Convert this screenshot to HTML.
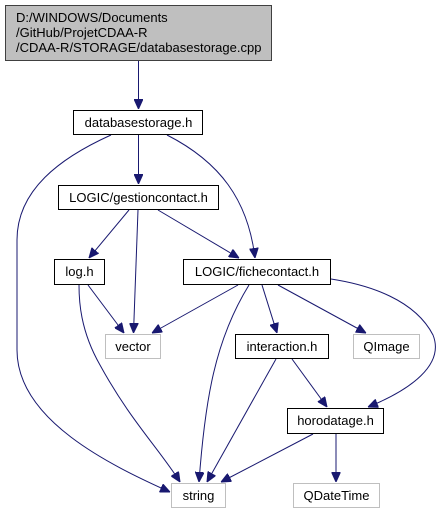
<!DOCTYPE html>
<html><head><meta charset="utf-8"><style>
html,body{margin:0;padding:0;background:#fff;width:443px;height:515px;overflow:hidden}
text{font-family:"Liberation Sans",Arial,sans-serif;font-size:13px;fill:#000}
</style></head><body>
<svg width="443" height="515" viewBox="0 0 443 515" xmlns="http://www.w3.org/2000/svg">
<defs>
<marker id="a" markerWidth="10" markerHeight="9" refX="10" refY="4.5" orient="auto" markerUnits="userSpaceOnUse">
<polygon points="0,0 10,4.5 0,9" fill="#191970" stroke="#191970"/>
</marker>
</defs>
<g fill="none" stroke="#191970" stroke-width="1" marker-end="url(#a)">
<path d="M138.5,61 L138.5,109"/>
<path d="M111,135 C60,158 17,190 17,240 L17,350 C17,420 110,465 170,492"/>
<path d="M138.5,135 L138.5,184"/>
<path d="M167,135 C220,162 248,200 255,258"/>
<path d="M129,210 L89,258"/>
<path d="M138,210 L133.5,333"/>
<path d="M158,210 L239,258"/>
<path d="M88,285 L124,333"/>
<path d="M79,285 C79,300 80,330 100,365 C130,420 160,450 180,482"/>
<path d="M238,285 L152,333"/>
<path d="M249,285 C215,340 205,400 199,482"/>
<path d="M262,285 L277,333"/>
<path d="M278,285 L366,333"/>
<path d="M331,279 C370,285 415,300 433,335 C445,365 410,390 368,407"/>
<path d="M276,359 L207,482"/>
<path d="M292,359 L327,407"/>
<path d="M313,434 L221,482"/>
<path d="M336,434 L336,482"/>
</g>
<g stroke-width="1">
<rect x="5.5" y="5.5" width="266" height="55" fill="#bfbfbf" stroke="#404040"/>
<rect x="73.5" y="110.5" width="129" height="24" fill="#fff" stroke="#000"/>
<rect x="58.5" y="185.5" width="160" height="24" fill="#fff" stroke="#000"/>
<rect x="54.5" y="259.5" width="50" height="25" fill="#fff" stroke="#000"/>
<rect x="183.5" y="259.5" width="147" height="25" fill="#fff" stroke="#000"/>
<rect x="105.5" y="334.5" width="55" height="24" fill="#fff" stroke="#bfbfbf"/>
<rect x="235.5" y="334.5" width="93" height="24" fill="#fff" stroke="#000"/>
<rect x="353.5" y="334.5" width="66" height="24" fill="#fff" stroke="#bfbfbf"/>
<rect x="287.5" y="408.5" width="96" height="25" fill="#fff" stroke="#000"/>
<rect x="171.5" y="483.5" width="54" height="24" fill="#fff" stroke="#bfbfbf"/>
<rect x="293.5" y="483.5" width="86" height="24" fill="#fff" stroke="#bfbfbf"/>
</g>
<text x="16" y="22">D:/WINDOWS/Documents</text>
<text x="16" y="37">/GitHub/ProjetCDAA-R</text>
<text x="16" y="52">/CDAA-R/STORAGE/databasestorage.cpp</text>
<g text-anchor="middle">
<text x="138.5" y="127">databasestorage.h</text>
<text x="138.5" y="202">LOGIC/gestioncontact.h</text>
<text x="79.5" y="276">log.h</text>
<text x="257" y="276">LOGIC/fichecontact.h</text>
<text x="133" y="351">vector</text>
<text x="282" y="351">interaction.h</text>
<text x="386.5" y="351">QImage</text>
<text x="335.5" y="425">horodatage.h</text>
<text x="198.5" y="500">string</text>
<text x="336.5" y="500">QDateTime</text>
</g>
</svg>
</body></html>
